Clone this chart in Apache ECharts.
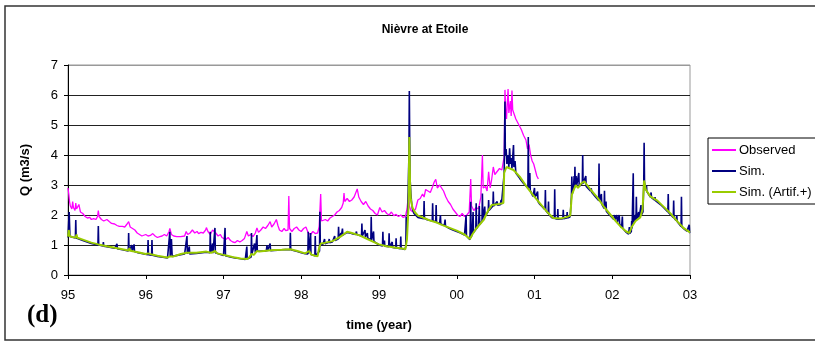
<!DOCTYPE html>
<html>
<head>
<meta charset="utf-8">
<script src="https://cdn.jsdelivr.net/npm/echarts@6/dist/echarts.min.js"></script>
<style>
html,body{margin:0;padding:0;background:#fff;}
#chart{width:815px;height:343px;}
</style>
</head>
<body>
<div id="chart"></div>
<script>
// x tick labels (years)
const yearTicks = [95, 96, 97, 98, 99, 100, 101, 102, 103];
const yearLabels = ['95', '96', '97', '98', '99', '00', '01', '02', '03'];

// Observed discharge [decimal year, Q m3/s]
const observed = [
[95.00,2.90],[95.01,2.70],[95.02,2.45],[95.03,2.30],[95.05,2.20],[95.06,2.45],[95.07,2.25],[95.09,2.15],[95.10,2.40],[95.11,2.20],
[95.13,2.15],[95.14,2.35],[95.16,2.10],[95.19,2.05],[95.22,1.95],[95.25,1.90],[95.28,1.92],[95.30,1.85],[95.33,1.88],[95.36,1.85],
[95.38,1.95],[95.39,2.15],[95.40,1.95],[95.43,1.85],[95.46,1.80],[95.50,1.85],[95.53,1.78],[95.56,1.72],[95.60,1.70],[95.63,1.65],
[95.66,1.62],[95.70,1.62],[95.73,1.60],[95.76,1.70],[95.78,1.78],[95.80,1.60],[95.83,1.55],[95.86,1.50],[95.89,1.40],[95.92,1.35],
[95.95,1.30],[95.97,1.28],[96.00,1.35],[96.03,1.30],[96.06,1.32],[96.09,1.38],[96.12,1.30],[96.15,1.25],[96.18,1.28],[96.21,1.30],
[96.24,1.35],[96.27,1.30],[96.30,1.45],[96.31,1.55],[96.33,1.35],[96.36,1.30],[96.40,1.28],[96.45,1.28],[96.50,1.30],[96.52,1.45],
[96.54,1.35],[96.57,1.40],[96.60,1.50],[96.63,1.40],[96.66,1.45],[96.68,1.38],[96.71,1.42],[96.74,1.40],[96.77,1.50],[96.78,1.58],
[96.80,1.45],[96.83,1.35],[96.86,1.50],[96.88,1.55],[96.90,1.40],[96.93,1.30],[96.96,1.35],[96.98,1.25],[97.00,1.20],[97.03,1.18],
[97.06,1.25],[97.09,1.15],[97.12,1.10],[97.15,1.08],[97.18,1.15],[97.21,1.10],[97.24,1.15],[97.27,1.22],[97.30,1.45],[97.32,1.30],
[97.35,1.35],[97.38,1.28],[97.41,1.40],[97.43,1.57],[97.45,1.42],[97.48,1.50],[97.51,1.60],[97.54,1.55],[97.57,1.65],[97.60,1.78],
[97.62,1.60],[97.65,1.70],[97.68,1.85],[97.70,1.65],[97.72,1.50],[97.75,1.45],[97.78,1.55],[97.80,1.48],[97.83,1.50],[97.84,2.63],
[97.85,1.55],[97.88,1.45],[97.91,1.55],[97.94,1.60],[97.97,1.50],[98.00,1.45],[98.03,1.55],[98.06,1.60],[98.09,1.40],[98.12,1.35],
[98.15,1.45],[98.18,1.38],[98.21,1.40],[98.23,1.60],[98.25,2.70],[98.26,1.80],[98.28,1.75],[98.31,1.85],[98.34,1.80],[98.37,1.90],
[98.40,1.95],[98.43,2.00],[98.46,2.10],[98.49,2.15],[98.52,2.25],[98.54,2.40],[98.55,2.73],[98.56,2.45],[98.59,2.55],[98.62,2.45],
[98.65,2.50],[98.68,2.60],[98.70,2.55],[98.72,2.87],[98.74,2.60],[98.77,2.45],[98.80,2.35],[98.83,2.45],[98.86,2.30],[98.89,2.20],
[98.92,2.15],[98.95,2.05],[98.98,2.00],[99.01,2.25],[99.04,2.10],[99.07,2.15],[99.10,2.05],[99.13,2.00],[99.16,2.10],[99.19,1.98],
[99.22,2.02],[99.25,1.95],[99.28,2.00],[99.31,1.92],[99.34,1.95],[99.36,2.20],[99.37,2.45],[99.38,2.73],[99.39,2.30],[99.41,2.15],
[99.44,2.10],[99.47,2.20],[99.50,2.50],[99.53,2.55],[99.56,2.70],[99.58,2.60],[99.60,2.85],[99.63,2.80],[99.66,2.75],[99.69,2.95],
[99.71,3.10],[99.73,3.19],[99.75,2.90],[99.78,3.00],[99.80,2.95],[99.83,2.80],[99.86,2.60],[99.89,2.45],[99.92,2.35],[99.95,2.20],
[99.98,2.10],[100.01,2.00],[100.04,1.95],[100.07,2.05],[100.10,1.95],[100.13,2.00],[100.16,2.10],[100.18,3.20],[100.19,2.30],[100.22,2.15],
[100.25,2.25],[100.28,2.20],[100.31,2.60],[100.33,4.00],[100.34,2.90],[100.37,2.95],[100.39,2.80],[100.41,3.44],[100.43,2.90],[100.45,3.20],
[100.47,3.60],[100.49,3.35],[100.52,3.45],[100.55,3.55],[100.58,3.50],[100.60,3.80],[100.61,3.90],[100.62,6.17],[100.63,5.50],[100.64,5.20],
[100.66,6.20],[100.67,5.40],[100.69,5.80],[100.70,5.30],[100.71,6.15],[100.72,5.50],[100.74,5.35],[100.76,5.20],[100.78,5.10],[100.80,5.00],
[100.83,4.85],[100.86,4.65],[100.89,4.50],[100.91,4.20],[100.93,4.35],[100.95,4.00],[100.97,3.80],[100.99,3.70],[101.01,3.50],[101.03,3.30],
[101.05,3.20]
];

// Simulated discharge
const simulated = [
[95.00,1.25],[95.015,2.10],[95.025,1.28],[95.05,1.25],[95.095,1.23],[95.10,1.83],[95.105,1.23],[95.20,1.14],[95.30,1.05],[95.385,1.00],
[95.39,1.63],[95.395,1.00],[95.45,0.97],[95.455,1.10],[95.46,0.96],[95.55,0.92],[95.60,0.89],[95.63,1.04],[95.635,0.88],[95.70,0.84],
[95.775,0.80],[95.78,1.40],[95.785,0.80],[95.80,0.79],[95.82,1.00],[95.825,0.79],[95.85,1.02],[95.855,0.78],[95.90,0.74],[96.025,0.68],
[96.03,1.17],[96.035,0.68],[96.075,0.66],[96.08,1.17],[96.085,0.66],[96.15,0.62],[96.22,0.59],[96.28,0.57],[96.305,0.58],[96.31,1.44],
[96.315,0.60],[96.33,1.20],[96.34,0.62],[96.45,0.68],[96.50,0.70],[96.53,1.30],[96.535,0.71],[96.56,0.95],[96.565,0.70],[96.65,0.72],
[96.78,0.76],[96.825,0.74],[96.83,1.44],[96.835,0.74],[96.86,1.05],[96.865,0.73],[96.885,0.74],[96.89,1.57],[96.895,0.74],[96.92,0.70],
[97.00,0.65],[97.015,0.64],[97.02,1.57],[97.025,0.64],[97.10,0.59],[97.15,0.57],[97.20,0.55],[97.28,0.52],[97.30,0.95],[97.305,0.53],
[97.33,0.55],[97.355,0.60],[97.36,1.40],[97.365,0.70],[97.39,0.68],[97.40,1.05],[97.41,0.74],[97.425,0.78],[97.43,1.33],[97.435,0.79],
[97.46,0.78],[97.50,0.80],[97.55,0.80],[97.56,1.00],[97.565,0.80],[97.60,1.05],[97.605,0.81],[97.65,0.82],[97.70,0.83],[97.75,0.84],
[97.80,0.85],[97.855,0.84],[97.86,1.41],[97.865,0.84],[97.90,0.82],[97.95,0.78],[98.00,0.74],[98.05,0.71],[98.085,0.70],[98.09,1.44],
[98.095,0.72],[98.12,1.40],[98.125,0.68],[98.175,0.64],[98.18,1.30],[98.185,0.63],[98.21,0.61],[98.235,0.80],[98.24,2.11],[98.245,0.98],
[98.28,1.03],[98.30,1.20],[98.305,1.04],[98.35,1.08],[98.36,1.20],[98.365,1.08],[98.40,1.10],[98.43,1.30],[98.435,1.15],[98.475,1.20],
[98.48,1.61],[98.485,1.22],[98.51,1.40],[98.515,1.28],[98.53,1.55],[98.535,1.33],[98.59,1.42],[98.65,1.38],[98.70,1.35],[98.71,1.45],
[98.715,1.35],[98.775,1.30],[98.78,1.72],[98.785,1.30],[98.82,1.50],[98.825,1.27],[98.85,1.40],[98.855,1.24],[98.895,1.16],[98.90,1.94],
[98.905,1.16],[98.93,1.45],[98.935,1.12],[99.00,1.00],[99.045,0.97],[99.05,1.44],[99.055,0.97],[99.07,1.15],[99.075,0.96],[99.125,0.94],
[99.13,1.39],[99.135,0.94],[99.17,1.10],[99.175,0.92],[99.215,0.90],[99.22,1.22],[99.225,0.90],[99.275,0.88],[99.28,1.28],[99.285,0.88],
[99.33,0.85],[99.345,0.95],[99.35,1.94],[99.355,1.30],[99.37,2.20],[99.385,4.00],[99.39,6.13],[99.395,4.50],[99.40,3.20],[99.41,2.70],
[99.42,2.40],[99.43,2.20],[99.45,2.05],[99.50,1.92],[99.575,1.88],[99.58,2.47],[99.585,1.88],[99.62,1.84],[99.685,1.80],[99.69,2.39],
[99.695,1.80],[99.73,1.78],[99.735,2.33],[99.74,1.76],[99.78,1.72],[99.79,2.00],[99.795,1.70],[99.84,1.65],[99.85,1.85],[99.855,1.63],
[99.90,1.56],[99.95,1.50],[100.00,1.45],[100.05,1.40],[100.10,1.33],[100.115,1.32],[100.12,2.00],[100.125,1.30],[100.15,1.25],[100.17,1.18],
[100.18,2.44],[100.185,1.25],[100.20,1.40],[100.21,2.10],[100.215,1.42],[100.245,1.52],[100.25,2.39],[100.255,1.55],[100.28,1.65],[100.29,2.30],
[100.295,1.68],[100.325,1.80],[100.33,2.72],[100.335,1.85],[100.35,1.88],[100.36,2.28],[100.365,1.95],[100.405,2.12],[100.41,2.50],[100.415,2.15],
[100.465,2.30],[100.47,2.78],[100.475,2.30],[100.50,2.32],[100.52,2.45],[100.525,2.33],[100.56,2.34],[100.57,2.50],[100.575,2.35],[100.60,2.38],
[100.61,3.40],[100.62,5.78],[100.625,4.00],[100.635,4.20],[100.645,3.70],[100.66,4.00],[100.67,3.60],[100.68,4.22],[100.69,3.70],[100.70,3.90],
[100.71,3.55],[100.73,4.33],[100.735,3.60],[100.75,3.80],[100.76,3.40],[100.81,3.22],[100.86,3.05],[100.915,2.90],[100.92,4.60],[100.925,2.90],
[100.94,3.40],[100.945,2.82],[100.98,2.62],[101.00,2.90],[101.005,2.58],[101.04,2.78],[101.045,2.45],[101.07,2.35],[101.10,2.28],[101.135,2.18],
[101.14,2.83],[101.145,2.15],[101.175,2.05],[101.18,2.45],[101.185,2.02],[101.22,1.92],[101.255,1.88],[101.26,2.86],[101.265,1.88],[101.295,1.86],
[101.30,2.20],[101.305,1.86],[101.365,1.88],[101.37,2.17],[101.375,1.88],[101.415,1.90],[101.42,2.10],[101.425,1.90],[101.455,1.93],[101.46,2.00],
[101.475,2.60],[101.48,3.28],[101.485,2.70],[101.50,2.85],[101.51,3.30],[101.515,2.90],[101.52,3.61],[101.525,2.95],[101.535,3.30],[101.54,2.95],
[101.56,3.00],[101.57,3.40],[101.575,2.95],[101.60,3.00],[101.615,3.05],[101.62,4.00],[101.625,3.05],[101.64,3.08],[101.66,3.30],[101.665,2.95],
[101.72,2.80],[101.73,2.89],[101.735,2.76],[101.78,2.62],[101.825,2.48],[101.83,3.72],[101.835,2.46],[101.85,2.40],[101.86,2.70],[101.865,2.36],
[101.895,2.22],[101.90,2.81],[101.905,2.20],[101.92,2.45],[101.925,2.12],[101.98,1.96],[102.02,1.85],[102.03,2.00],[102.035,1.84],[102.05,1.80],
[102.06,2.00],[102.065,1.76],[102.08,1.72],[102.09,2.00],[102.095,1.70],[102.12,1.58],[102.13,1.95],[102.135,1.56],[102.18,1.42],[102.21,1.36],
[102.22,1.60],[102.225,1.38],[102.245,1.45],[102.25,1.80],[102.255,1.55],[102.265,1.60],[102.27,3.39],[102.275,1.75],[102.29,1.80],[102.30,2.00],
[102.305,1.82],[102.31,2.61],[102.315,1.85],[102.335,1.88],[102.34,2.10],[102.345,1.90],[102.365,1.95],[102.37,2.33],[102.375,2.00],[102.395,2.10],
[102.405,3.00],[102.41,4.41],[102.415,3.10],[102.43,2.82],[102.44,3.00],[102.445,2.78],[102.49,2.60],[102.50,2.75],[102.505,2.58],[102.545,2.50],
[102.55,2.60],[102.555,2.48],[102.58,2.45],[102.62,2.35],[102.66,2.25],[102.715,2.10],[102.72,2.70],[102.725,2.08],[102.75,2.02],[102.785,1.92],
[102.79,2.48],[102.795,1.90],[102.82,1.82],[102.83,2.00],[102.835,1.78],[102.885,1.62],[102.89,2.61],[102.895,1.60],[102.93,1.52],[102.96,1.46],
[102.985,1.42],[102.99,1.67],[102.995,1.42],[103.00,1.40]
];

// Simulated discharge with artificial influences
const simArtif = [
[95.00,1.28],[95.01,1.50],[95.02,1.30],[95.05,1.27],[95.10,1.25],[95.11,1.35],[95.12,1.24],[95.20,1.17],[95.30,1.08],[95.39,1.02],
[95.40,1.08],[95.41,1.01],[95.50,0.96],[95.60,0.91],[95.70,0.86],[95.78,0.82],[95.79,0.90],[95.80,0.81],[95.90,0.76],[96.00,0.70],
[96.03,0.72],[96.08,0.68],[96.15,0.64],[96.22,0.61],[96.28,0.58],[96.31,0.62],[96.33,0.67],[96.36,0.62],[96.45,0.70],[96.53,0.74],
[96.55,0.70],[96.65,0.74],[96.78,0.78],[96.84,0.74],[96.89,0.80],[96.92,0.72],[97.00,0.67],[97.02,0.72],[97.05,0.64],[97.15,0.58],
[97.22,0.55],[97.30,0.53],[97.33,0.58],[97.36,0.70],[97.39,0.67],[97.43,0.80],[97.46,0.78],[97.55,0.81],[97.65,0.83],[97.75,0.84],
[97.86,0.86],[97.95,0.80],[98.05,0.72],[98.10,0.80],[98.13,0.68],[98.18,0.64],[98.21,0.62],[98.23,0.90],[98.25,1.05],[98.30,1.07],
[98.40,1.13],[98.50,1.27],[98.59,1.44],[98.65,1.40],[98.75,1.32],[98.85,1.20],[98.95,1.08],[99.00,1.02],[99.10,0.96],[99.20,0.92],
[99.30,0.88],[99.34,0.86],[99.36,1.20],[99.38,2.30],[99.39,4.60],[99.40,3.00],[99.41,2.50],[99.43,2.25],[99.46,2.10],[99.50,1.98],
[99.58,1.90],[99.65,1.82],[99.73,1.76],[99.80,1.68],[99.90,1.58],[100.00,1.48],[100.10,1.35],[100.17,1.20],[100.20,1.35],[100.25,1.55],
[100.30,1.70],[100.35,1.85],[100.38,2.03],[100.41,2.17],[100.45,2.33],[100.50,2.35],[100.55,2.37],[100.60,2.40],[100.61,3.40],[100.64,3.60],
[100.73,3.50],[100.81,3.28],[100.90,2.94],[100.98,2.67],[101.07,2.39],[101.16,2.11],[101.24,1.90],[101.33,1.88],[101.41,1.93],[101.46,1.98],
[101.48,2.67],[101.53,3.00],[101.56,2.90],[101.60,3.05],[101.64,3.12],[101.72,2.85],[101.81,2.58],[101.90,2.25],[101.98,2.00],[102.05,1.78],
[102.12,1.58],[102.18,1.45],[102.22,1.40],[102.25,1.60],[102.30,1.80],[102.36,1.92],[102.39,2.20],[102.41,3.15],[102.43,2.85],[102.49,2.62],
[102.58,2.48],[102.66,2.28],[102.75,2.05],[102.84,1.78],[102.92,1.56],[103.00,1.42]
];

const chart = echarts.init(document.getElementById('chart'), null, {renderer: 'canvas'});
const font = '"Liberation Sans", Arial, sans-serif';
chart.setOption({
  animation: false,
  backgroundColor: '#fff',
  title: {
    text: 'Nièvre at Etoile',
    left: 420, top: 19, textAlign: 'center',
    textStyle: {fontFamily: font, fontSize: 12, fontWeight: 'bold', color: '#000'}
  },
  graphic: [
    {type: 'rect', shape: {x: 5, y: 6, width: 820, height: 334}, style: {fill: 'none', stroke: '#333', lineWidth: 1.5}, z: -1},
    {type: 'text', left: 27, top: 303, style: {text: '(d)', font: 'bold 25px "Liberation Serif", "Times New Roman", serif', fill: '#000'}}
  ],
  legend: {
    orient: 'vertical', left: 708, top: 138,
    padding: [5, 12, 5, 4], itemGap: 7,
    itemWidth: 24, itemHeight: 2, icon: 'rect',
    borderColor: '#000', borderWidth: 1, backgroundColor: '#fff',
    textStyle: {fontFamily: font, fontSize: 13, lineHeight: 14, color: '#000', padding: [0, 0, 0, -2]},
    data: ['Observed', 'Sim.', 'Sim. (Artif.+)']
  },
  grid: {left: 68, top: 65, right: 125, bottom: 68, show: true, borderColor: '#999', borderWidth: 1},
  xAxis: {
    type: 'value', min: 95, max: 103, interval: 1,
    name: 'time (year)', nameLocation: 'middle', nameGap: 44,
    nameTextStyle: {fontFamily: font, fontSize: 13, fontWeight: 'bold', color: '#000'},
    axisLine: {lineStyle: {color: '#000', width: 1}},
    axisTick: {show: true, length: 4, lineStyle: {color: '#000'}},
    axisLabel: {fontFamily: font, fontSize: 13, color: '#000', margin: 14,
      formatter: v => yearLabels[yearTicks.indexOf(Math.round(v))] || ''},
    splitLine: {show: false}
  },
  yAxis: {
    type: 'value', min: 0, max: 7, interval: 1,
    name: 'Q (m3/s)', nameLocation: 'middle', nameGap: 36, nameRotate: 90,
    nameTextStyle: {fontFamily: font, fontSize: 13, fontWeight: 'bold', color: '#000'},
    axisLine: {show: true, lineStyle: {color: '#000', width: 1}},
    axisTick: {show: true, length: 4, lineStyle: {color: '#000'}},
    axisLabel: {fontFamily: font, fontSize: 13, color: '#000', margin: 10},
    splitLine: {show: true, lineStyle: {color: ['#000', '#222', '#222', '#222', '#222', '#222', '#222', '#999'], width: 1}}
  },
  series: [
    {name: 'Observed', type: 'line', data: observed, showSymbol: false, symbol: 'none',
      lineStyle: {color: '#FF00FF', width: 1.3}, itemStyle: {color: '#FF00FF'}, z: 2},
    {name: 'Sim.', type: 'line', data: simulated, showSymbol: false, symbol: 'none',
      lineStyle: {color: '#000080', width: 1.6}, itemStyle: {color: '#000080'}, z: 3},
    {name: 'Sim. (Artif.+)', type: 'line', data: simArtif, showSymbol: false, symbol: 'none',
      lineStyle: {color: '#99CC00', width: 2}, itemStyle: {color: '#99CC00'}, z: 4}
  ]
});
</script>
</body>
</html>
